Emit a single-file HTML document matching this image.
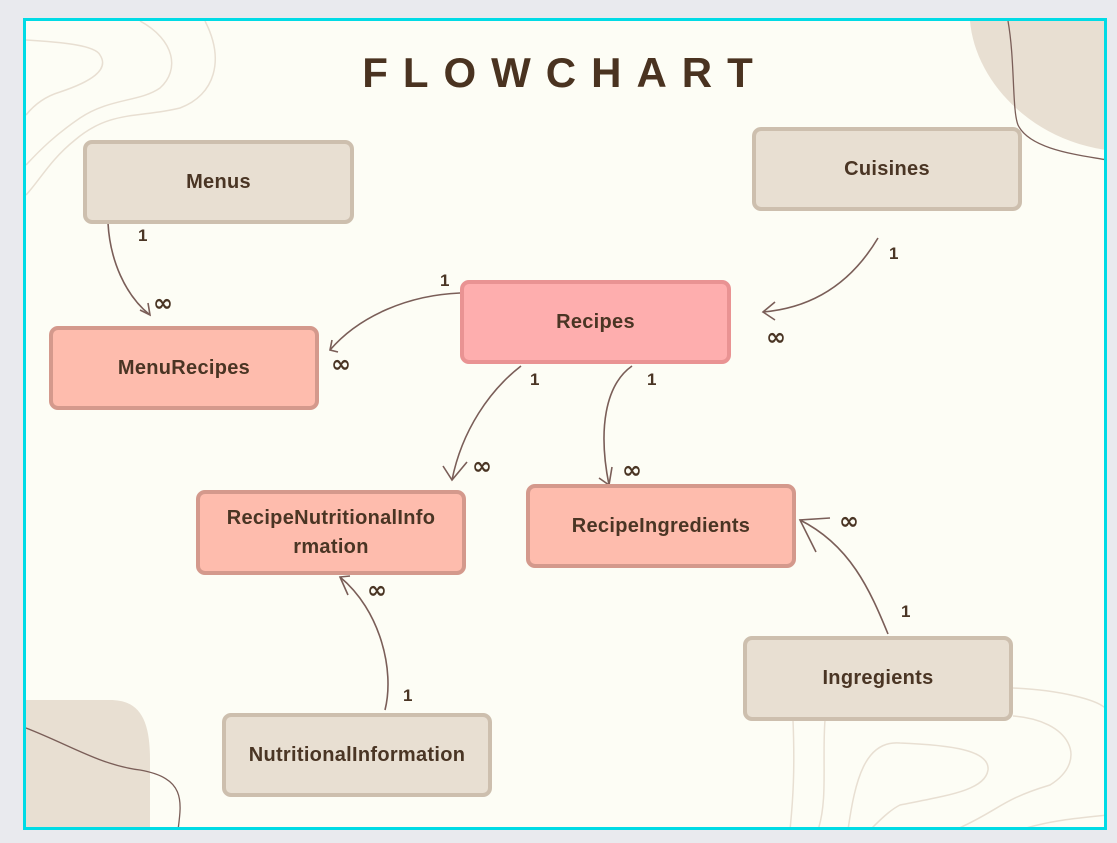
<!DOCTYPE html>
<html><head><meta charset="utf-8"><style>
html,body{margin:0;padding:0;width:1117px;height:843px;background:#e9eaee;overflow:hidden;font-family:"Liberation Sans",sans-serif}
#f{position:absolute;left:23px;top:18px;width:1078px;height:806px;border:3px solid #00dbe5;background:#fdfdf5;overflow:hidden}
.b{position:absolute;box-sizing:border-box;border:4px solid;border-radius:9px;display:flex;align-items:center;justify-content:center;text-align:center;font-weight:bold;font-size:20px;color:#4a3524;line-height:29px;letter-spacing:0.3px}
.n{background:#e8dfd2;border-color:#cdbfae}
.p{background:#febcad;border-color:#d4998c}
.r{background:#feaeae;border-color:#e99393}
.l{position:absolute;font-weight:bold;font-size:17px;color:#4a3524}
.i{position:absolute;font-size:24px;font-weight:bold;color:#4a3524;font-family:"DejaVu Sans",sans-serif;line-height:28px}
</style></head><body>
<div id="f">
<svg width="1078" height="806" style="position:absolute;left:0;top:0">
<g transform="translate(-26,-21)" fill="none">
<path d="M970 21 C975 80 1030 140 1107 150 L1107 21 Z" fill="#e8dfd2"/>
<path d="M1008 21 C1015 60 1012 110 1018 125 C1030 150 1080 155 1107 160" stroke="#7a5e58" stroke-width="1.3"/>
<path d="M26 700 L110 700 C140 700 150 720 150 760 L150 830 L26 830 Z" fill="#e8dfd2"/>
<path d="M26 728 C70 745 100 765 140 770 C185 778 182 800 178 830" stroke="#7a5e58" stroke-width="1.3"/>
<g stroke="#e8dfd2" stroke-width="1.5">
<path d="M26 40 C60 42 95 45 100 55 C110 70 90 82 60 92 C40 98 30 110 26 115"/>
<path d="M140 21 C175 40 180 70 160 88 C140 102 110 98 80 118 C55 135 40 150 26 165"/>
<path d="M205 21 C225 60 215 95 180 108 C140 118 110 110 75 140 C50 160 40 180 26 195"/>
<path d="M793 720 C795 770 793 800 790 830"/>
<path d="M825 720 C822 760 828 800 818 830"/>
<path d="M1013 688 C1060 690 1100 700 1107 710"/>
<path d="M1013 716 C1070 720 1090 760 1050 785 C1000 800 1000 810 955 830"/>
<path d="M848 830 C855 780 865 740 900 743 C950 745 990 750 988 770 C985 790 950 795 900 805 C890 810 880 820 870 830"/>
<path d="M1107 815 C1080 818 1050 820 1020 830"/>
</g>
<g stroke="#7a5e58" stroke-width="1.6">
<path d="M108 223 C110 260 125 295 150 315"/><path d="M140 310 L150 315 L148 303"/>
<path d="M460 293 C410 295 360 315 330 350"/><path d="M338 352 L330 350 L332 340"/>
<path d="M878 238 C850 285 810 308 763 312"/><path d="M775 302 L763 312 L775 320"/>
<path d="M521 366 C490 390 462 430 452 480"/><path d="M443 466 L452 480 L467 462"/>
<path d="M632 366 C605 385 598 430 609 485"/><path d="M599 478 L609 485 L612 467"/>
<path d="M385 710 C395 670 380 610 340 577"/><path d="M350 576 L340 577 L348 595"/>
<path d="M888 634 C870 590 850 545 800 520"/><path d="M830 518 L800 520 L816 552"/>
</g>
</g>
</svg>
<div style="position:absolute;left:0;width:1078px;top:28px;text-align:center;font-size:42px;font-weight:bold;letter-spacing:15px;color:#4a3320">FLOWCHART</div>
</div>
<div class="b n" style="left:83px;top:140px;width:271px;height:84px">Menus</div>
<div class="b n" style="left:752px;top:127px;width:270px;height:84px">Cuisines</div>
<div class="b r" style="left:460px;top:280px;width:271px;height:84px">Recipes</div>
<div class="b p" style="left:49px;top:326px;width:270px;height:84px">MenuRecipes</div>
<div class="b p" style="left:196px;top:490px;width:270px;height:85px">RecipeNutritionalInfo<br>rmation</div>
<div class="b p" style="left:526px;top:484px;width:270px;height:84px">RecipeIngredients</div>
<div class="b n" style="left:222px;top:713px;width:270px;height:84px">NutritionalInformation</div>
<div class="b n" style="left:743px;top:636px;width:270px;height:85px">Ingregients</div>
<div class="l" style="left:138px;top:226px">1</div><div class="i" style="left:153px;top:289px">∞</div>
<div class="l" style="left:440px;top:271px">1</div><div class="i" style="left:331px;top:350px">∞</div>
<div class="l" style="left:889px;top:244px">1</div><div class="i" style="left:766px;top:323px">∞</div>
<div class="l" style="left:530px;top:370px">1</div><div class="i" style="left:472px;top:452px">∞</div>
<div class="l" style="left:647px;top:370px">1</div><div class="i" style="left:622px;top:456px">∞</div>
<div class="l" style="left:403px;top:686px">1</div><div class="i" style="left:367px;top:576px">∞</div>
<div class="l" style="left:901px;top:602px">1</div><div class="i" style="left:839px;top:507px">∞</div>
</body></html>
